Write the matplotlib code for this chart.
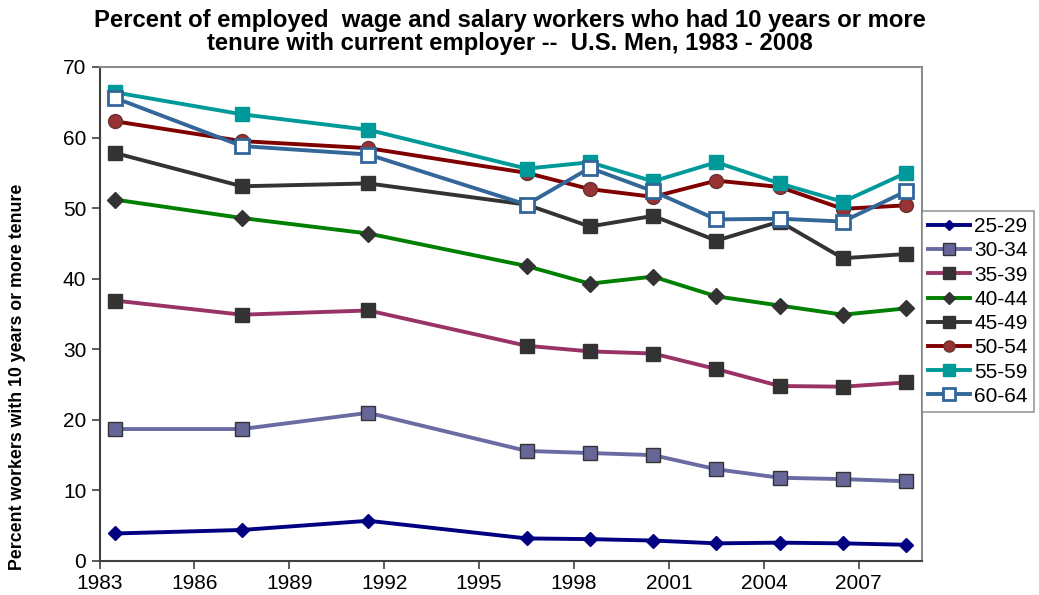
import matplotlib
matplotlib.use("Agg")
import matplotlib.pyplot as plt

plt.rcParams["font.family"] = ["Liberation Sans", "DejaVu Sans"]

years = [1983, 1987, 1991, 1996, 1998, 2000, 2002, 2004, 2006, 2008]

age_25_29 = [3.9, 4.4, 5.7, 3.2, 3.1, 2.9, 2.5, 2.6, 2.5, 2.3]
age_30_34 = [18.7, 18.7, 21.0, 15.6, 15.3, 15.0, 13.0, 11.8, 11.6, 11.3]
age_35_39 = [36.9, 34.9, 35.5, 30.5, 29.7, 29.4, 27.2, 24.8, 24.7, 25.3]
age_40_44 = [51.2, 48.6, 46.4, 41.8, 39.3, 40.3, 37.5, 36.2, 34.9, 35.8]
age_45_49 = [57.8, 53.1, 53.5, 50.5, 47.4, 48.9, 45.4, 48.1, 42.9, 43.5]
age_50_54 = [62.3, 59.5, 58.5, 55.0, 52.7, 51.6, 53.9, 53.0, 49.9, 50.4]
age_55_59 = [66.4, 63.3, 61.1, 55.6, 56.5, 53.8, 56.5, 53.5, 50.9, 55.0]
age_60_64 = [65.6, 58.8, 57.6, 50.5, 55.7, 52.4, 48.4, 48.5, 48.1, 52.4]

labels = ["25-29", "30-34", "35-39", "40-44", "45-49", "50-54", "55-59", "60-64"]
series = [age_25_29, age_30_34, age_35_39, age_40_44,
          age_45_49, age_50_54, age_55_59, age_60_64]

# line colour, marker, marker face, marker edge, marker size
styles = [
    ("#000080", "D", "#000080", "#000080", 7),
    ("#6B6BA3", "s", "#666699", "#333333", 10),
    ("#993366", "s", "#333333", "#333333", 10),
    ("#008000", "D", "#333333", "#333333", 8),
    ("#333333", "s", "#333333", "#333333", 10),
    ("#800000", "o", "#993333", "#663333", 10),
    ("#009999", "s", "#009999", "#009999", 10),
    ("#336699", "s", "white", "#336699", 10),
]

fig = plt.figure(figsize=(10.39, 5.95), dpi=100)
ax = fig.add_axes([99.5 / 1039, 1 - 561 / 595, (922 - 99.5) / 1039, (561 - 67) / 595])

# points sit mid-year on the date axis
xs = [y + 0.5 for y in years]
for vals, lab, (lc, mk, mf, me, ms) in zip(series, labels, styles):
    ax.plot(xs, vals, color=lc, lw=2.8, marker=mk, markersize=ms,
            markerfacecolor=mf, markeredgecolor=me,
            markeredgewidth=2 if mf == "white" else 1, label=lab)

ax.set_xlim(1983, 2009)
ax.set_ylim(0, 70)
ax.set_xticks(range(1983, 2008, 3))
ax.set_yticks(range(0, 71, 10))
ax.tick_params(labelsize=15, length=6, width=1.2, color="#404040")
for s in ax.spines.values():
    s.set_color("#8c8c8c")
    s.set_linewidth(1.5)
ax.spines["left"].set_color("#404040")
ax.spines["bottom"].set_color("#404040")

fig.text(510 / 1039, 1 - 32 / 595,
         "Percent of employed  wage and salary workers who had 10 years or more\n"
         "tenure with current employer --  U.S. Men, 1983 - 2008",
         ha="center", va="center", fontsize=17.2, fontweight="bold",
         linespacing=1.03)

fig.text(18 / 1039, 1 - 377 / 595, "Percent workers with 10 years or more tenure",
         rotation=90, ha="center", va="center", fontsize=12.8, fontweight="bold",
         family=["Liberation Sans Narrow", "Liberation Sans"])

leg = ax.legend(loc="upper left", bbox_to_anchor=(922 / 1039, 1 - 211 / 595),
                bbox_transform=fig.transFigure, borderaxespad=0, fontsize=15,
                frameon=True, fancybox=False, edgecolor="#808080",
                handlelength=2.0, handletextpad=0.2, labelspacing=0.25,
                borderpad=0.3, markerscale=0.8)
leg.get_frame().set_linewidth(1.2)

fig.savefig("out.png", dpi=100)
